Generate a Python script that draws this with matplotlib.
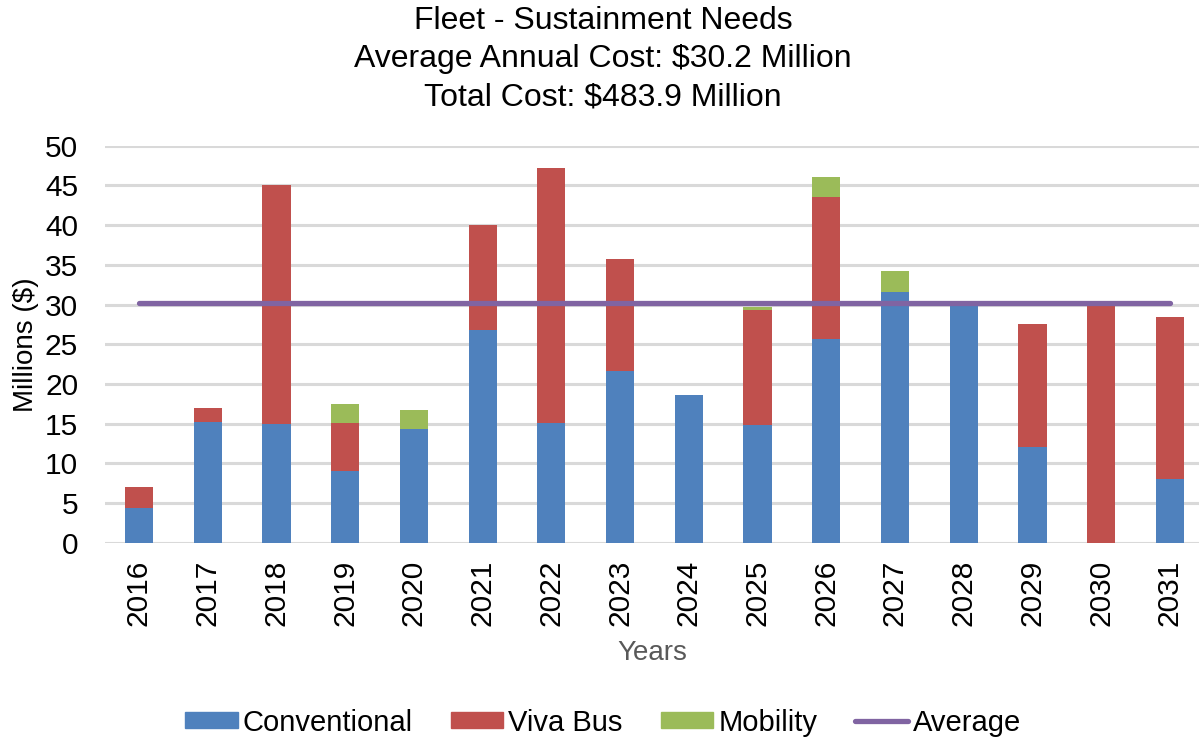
import matplotlib.pyplot as plt
import numpy as np
from matplotlib.patches import Patch
from matplotlib.lines import Line2D

plt.rcParams["font.family"] = ["Liberation Sans", "DejaVu Sans"]

years = [str(y) for y in range(2016, 2032)]
conventional = [4.4, 15.2, 15.0, 9.0, 14.3, 26.8, 15.1, 21.6, 18.6, 14.8, 25.6, 31.6, 30.5, 12.0, 0.0, 8.0]
viva_bus = [2.6, 1.8, 30.1, 6.1, 0.0, 13.2, 32.1, 14.1, 0.0, 14.5, 18.0, 0.0, 0.0, 15.6, 30.0, 20.4]
mobility = [0.0, 0.0, 0.0, 2.4, 2.4, 0.0, 0.0, 0.0, 0.0, 0.4, 2.4, 2.6, 0.0, 0.0, 0.0, 0.0]
average = 30.2

c_conv = "#4F81BD"
c_viva = "#C0504D"
c_mob = "#9BBB59"
c_avg = "#8064A2"

fig = plt.figure(figsize=(11.99, 7.38), dpi=100)
ax = fig.add_axes([104.6 / 1199, 195.3 / 738, (1199 - 104.6) / 1199, 397 / 738])

x = np.arange(len(years))
conv = np.array(conventional)
viva = np.array(viva_bus)
mob = np.array(mobility)
w = 0.41
ax.bar(x, conv, w, color=c_conv, zorder=2)
ax.bar(x, viva, w, bottom=conv, color=c_viva, zorder=2)
ax.bar(x, mob, w, bottom=conv + viva, color=c_mob, zorder=2)
ax.plot(x, [average] * len(x), color=c_avg, lw=3.8, solid_capstyle="round", zorder=3)

ax.set_xlim(-0.5, -0.5 + (1199 - 104.6) / 68.73)
ax.set_ylim(0, 50)
ax.set_yticks(range(0, 51, 5))
ax.set_xticks(x)
ax.set_xticklabels(years, rotation=90, fontsize=21.5)
ax.tick_params(axis="y", labelsize=21.5, length=0, pad=19)
ax.tick_params(axis="x", length=0, pad=12)
ax.grid(axis="y", color="#D9D9D9", lw=2.2, zorder=0)
for s in ax.spines.values():
    s.set_visible(False)

ax.set_ylabel("Millions ($)", fontsize=20, labelpad=4)
ax.set_xlabel("Years", fontsize=20, color="#595959", labelpad=10)

fig.text(0.503, 0.992, "Fleet - Sustainment Needs\nAverage Annual Cost: $30.2 Million\nTotal Cost: $483.9 Million",
         ha="center", va="top", fontsize=23, linespacing=1.36)

handles = [Patch(color=c_conv, label="Conventional"),
           Patch(color=c_viva, label="Viva Bus"),
           Patch(color=c_mob, label="Mobility"),
           Line2D([0], [0], color=c_avg, lw=3.8, solid_capstyle="round", label="Average")]
fig.legend(handles=handles, loc="center", bbox_to_anchor=(0.503, 0.021), ncol=4, frameon=False,
           fontsize=21, handlelength=1.8, handleheight=0.5, handletextpad=0.17, columnspacing=1.3)

fig.savefig("out.png", dpi=100)
